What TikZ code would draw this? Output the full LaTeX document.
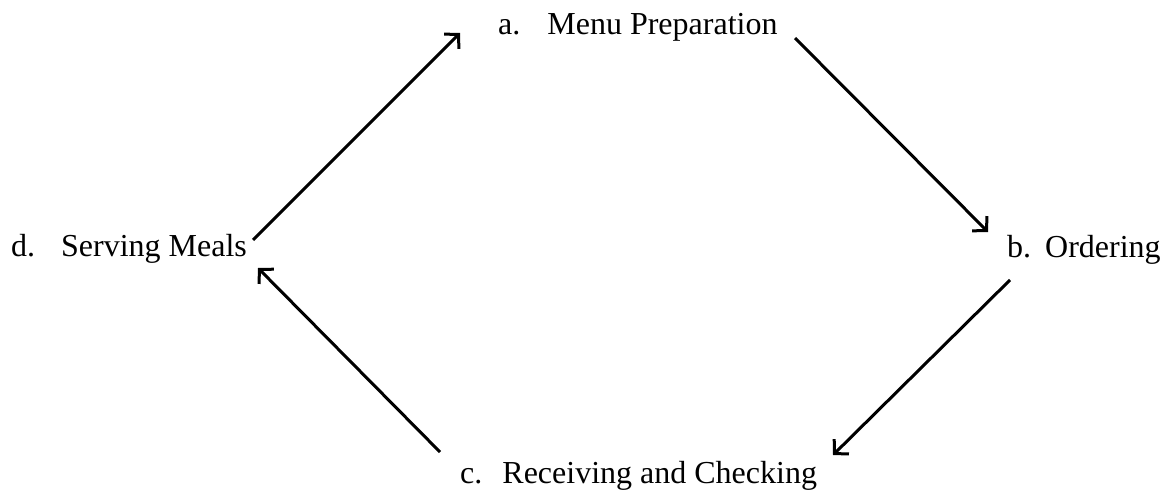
\documentclass[tikz,border=0pt]{standalone}
\usepackage{fontspec}
\setmainfont{Liberation Serif}
\usetikzlibrary{arrows.meta,calc}
\tikzset{
  lbl/.style={anchor=base west, inner sep=0pt, font=\fontsize{32}{38}\selectfont},
  flow/.style={line width=3pt, -{Straight Barb[length=10pt,width=21pt,line width=3pt]}}
}
\begin{document}
\begin{tikzpicture}[x=1pt,y=-1pt]
\useasboundingbox (0,0) rectangle (1168,495);
\node[lbl] (a) at (498,35) {a.\hspace{27pt}Menu Preparation};
\node[lbl] (b) at (1007,257) {b.\hspace{14pt}Ordering};
\node[lbl] (c) at (460,483) {c.\hspace{20pt}Receiving and Checking};
\node[lbl] (d) at (11,256) {d.\hspace{26pt}Serving Meals};
\draw[flow] ($(d.base west)+(242,-16)$) -- ($(a.base west)+(-38,-2)$);
\draw[flow] ($(a.base west)+(297,3)$) -- ($(b.base west)+(-19,-25)$);
\draw[flow] ($(b.base west)+(3,23)$) -- ($(c.base west)+(373,-28)$);
\draw[flow] ($(c.base west)+(-20,-31)$) -- ($(d.base west)+(247,12)$);
\end{tikzpicture}
\end{document}
